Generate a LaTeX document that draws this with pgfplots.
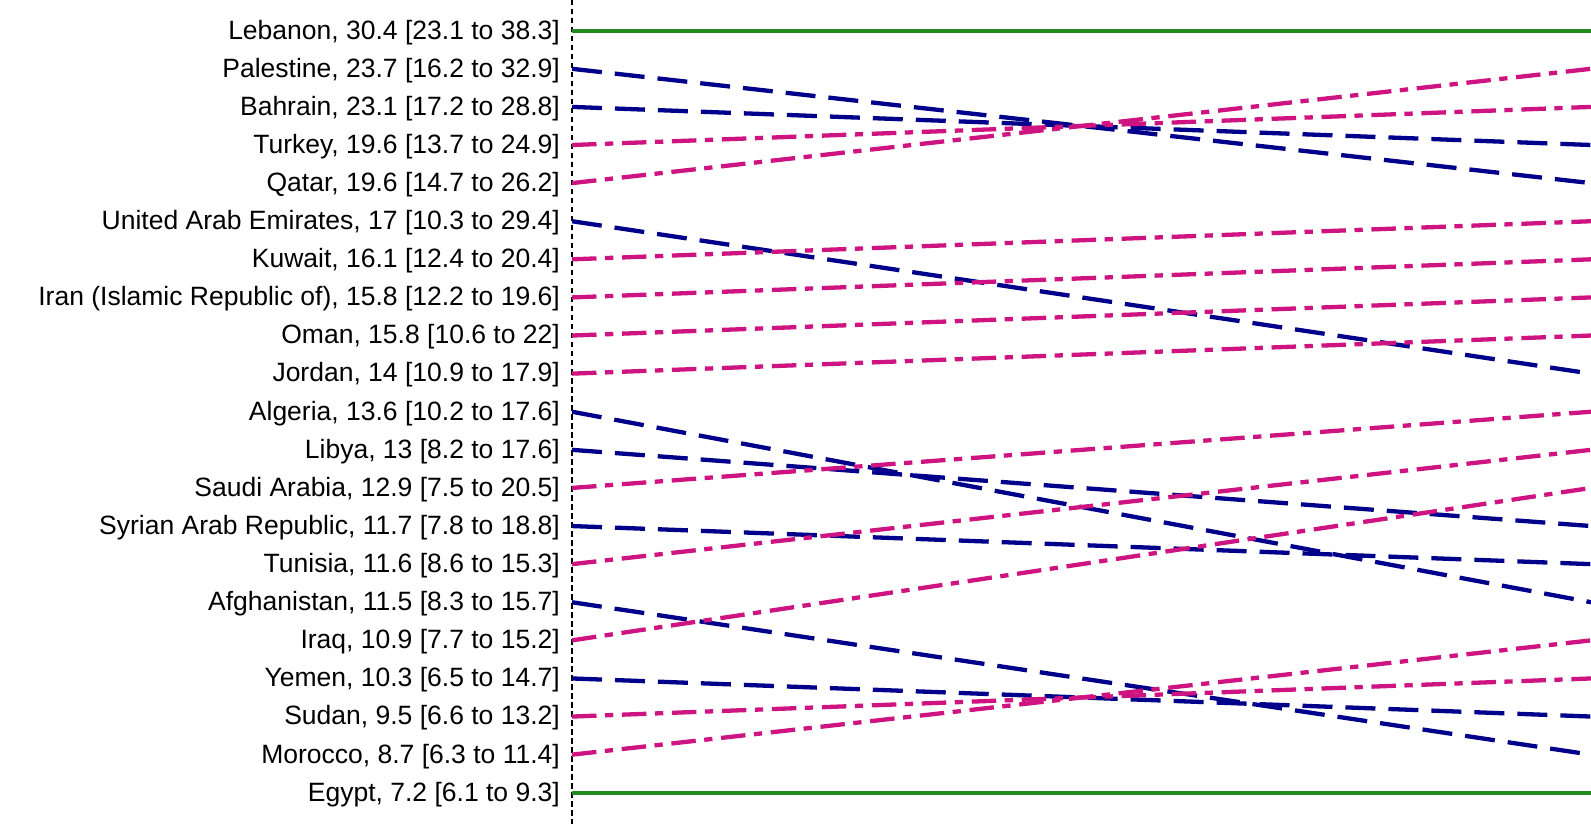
\documentclass[border=0pt]{standalone}
\usepackage{fontspec}
\setmainfont{Liberation Sans}
\usepackage{pgfplots}
\pgfplotsset{compat=1.18}
\definecolor{lgreen}{RGB}{34,139,34}
\definecolor{lblue}{RGB}{0,0,139}
\definecolor{lpink}{RGB}{206,20,128}
\begin{document}
\begin{tikzpicture}[x=1bp,y=1bp]
\path[use as bounding box] (0,0) rectangle (1591,824);
\begin{axis}[
  at={(572bp,0bp)}, anchor=south west,
  width=1019bp, height=824bp, scale only axis,
  xmin=0, xmax=1, ymin=0.194, ymax=21.82, y dir=reverse,
  axis x line=none, axis y line=left,
  y axis line style={-, black, line width=1.4bp, dash pattern=on 5.5bp off 3.5bp},
  ytick={1,...,21}, major tick length=0pt, ytick style={draw=none},
  yticklabels={
    {Lebanon, 30.4 [23.1 to 38.3]},
    {Palestine, 23.7 [16.2 to 32.9]},
    {Bahrain, 23.1 [17.2 to 28.8]},
    {Turkey, 19.6 [13.7 to 24.9]},
    {Qatar, 19.6 [14.7 to 26.2]},
    {United Arab Emirates, 17 [10.3 to 29.4]},
    {Kuwait, 16.1 [12.4 to 20.4]},
    {Iran (Islamic Republic of), 15.8 [12.2 to 19.6]},
    {Oman, 15.8 [10.6 to 22]},
    {Jordan, 14 [10.9 to 17.9]},
    {Algeria, 13.6 [10.2 to 17.6]},
    {Libya, 13 [8.2 to 17.6]},
    {Saudi Arabia, 12.9 [7.5 to 20.5]},
    {Syrian Arab Republic, 11.7 [7.8 to 18.8]},
    {Tunisia, 11.6 [8.6 to 15.3]},
    {Afghanistan, 11.5 [8.3 to 15.7]},
    {Iraq, 10.9 [7.7 to 15.2]},
    {Yemen, 10.3 [6.5 to 14.7]},
    {Sudan, 9.5 [6.6 to 13.2]},
    {Morocco, 8.7 [6.3 to 11.4]},
    {Egypt, 7.2 [6.1 to 9.3]}},
  yticklabel style={font=\fontsize{26.5bp}{31bp}\selectfont, inner sep=0pt, xshift=-12bp, yshift=-1.5bp, text=black},
  gsame/.style={lgreen, line width=4.3bp, solid},
  gdown/.style={lblue, line width=4.3bp, dash pattern=on 30bp off 13bp},
  gup/.style={lpink, line width=4.3bp, dash pattern=on 24.5bp off 8.5bp on 8.3bp off 8.7bp},
]
\addplot[gsame] coordinates {(0,1) (1,1)};
\addplot[gdown] coordinates {(0,2) (1,5)};
\addplot[gdown] coordinates {(0,3) (1,4)};
\addplot[gup] coordinates {(0,4) (1,3)};
\addplot[gup] coordinates {(0,5) (1,2)};
\addplot[gdown] coordinates {(0,6) (1,10)};
\addplot[gup] coordinates {(0,7) (1,6)};
\addplot[gup] coordinates {(0,8) (1,7)};
\addplot[gup] coordinates {(0,9) (1,8)};
\addplot[gup] coordinates {(0,10) (1,9)};
\addplot[gdown] coordinates {(0,11) (1,16)};
\addplot[gdown] coordinates {(0,12) (1,14)};
\addplot[gup] coordinates {(0,13) (1,11)};
\addplot[gdown] coordinates {(0,14) (1,15)};
\addplot[gup] coordinates {(0,15) (1,12)};
\addplot[gdown] coordinates {(0,16) (1,20)};
\addplot[gup] coordinates {(0,17) (1,13)};
\addplot[gdown] coordinates {(0,18) (1,19)};
\addplot[gup] coordinates {(0,19) (1,18)};
\addplot[gup] coordinates {(0,20) (1,17)};
\addplot[gsame] coordinates {(0,21) (1,21)};
\end{axis}
\end{tikzpicture}
\end{document}
